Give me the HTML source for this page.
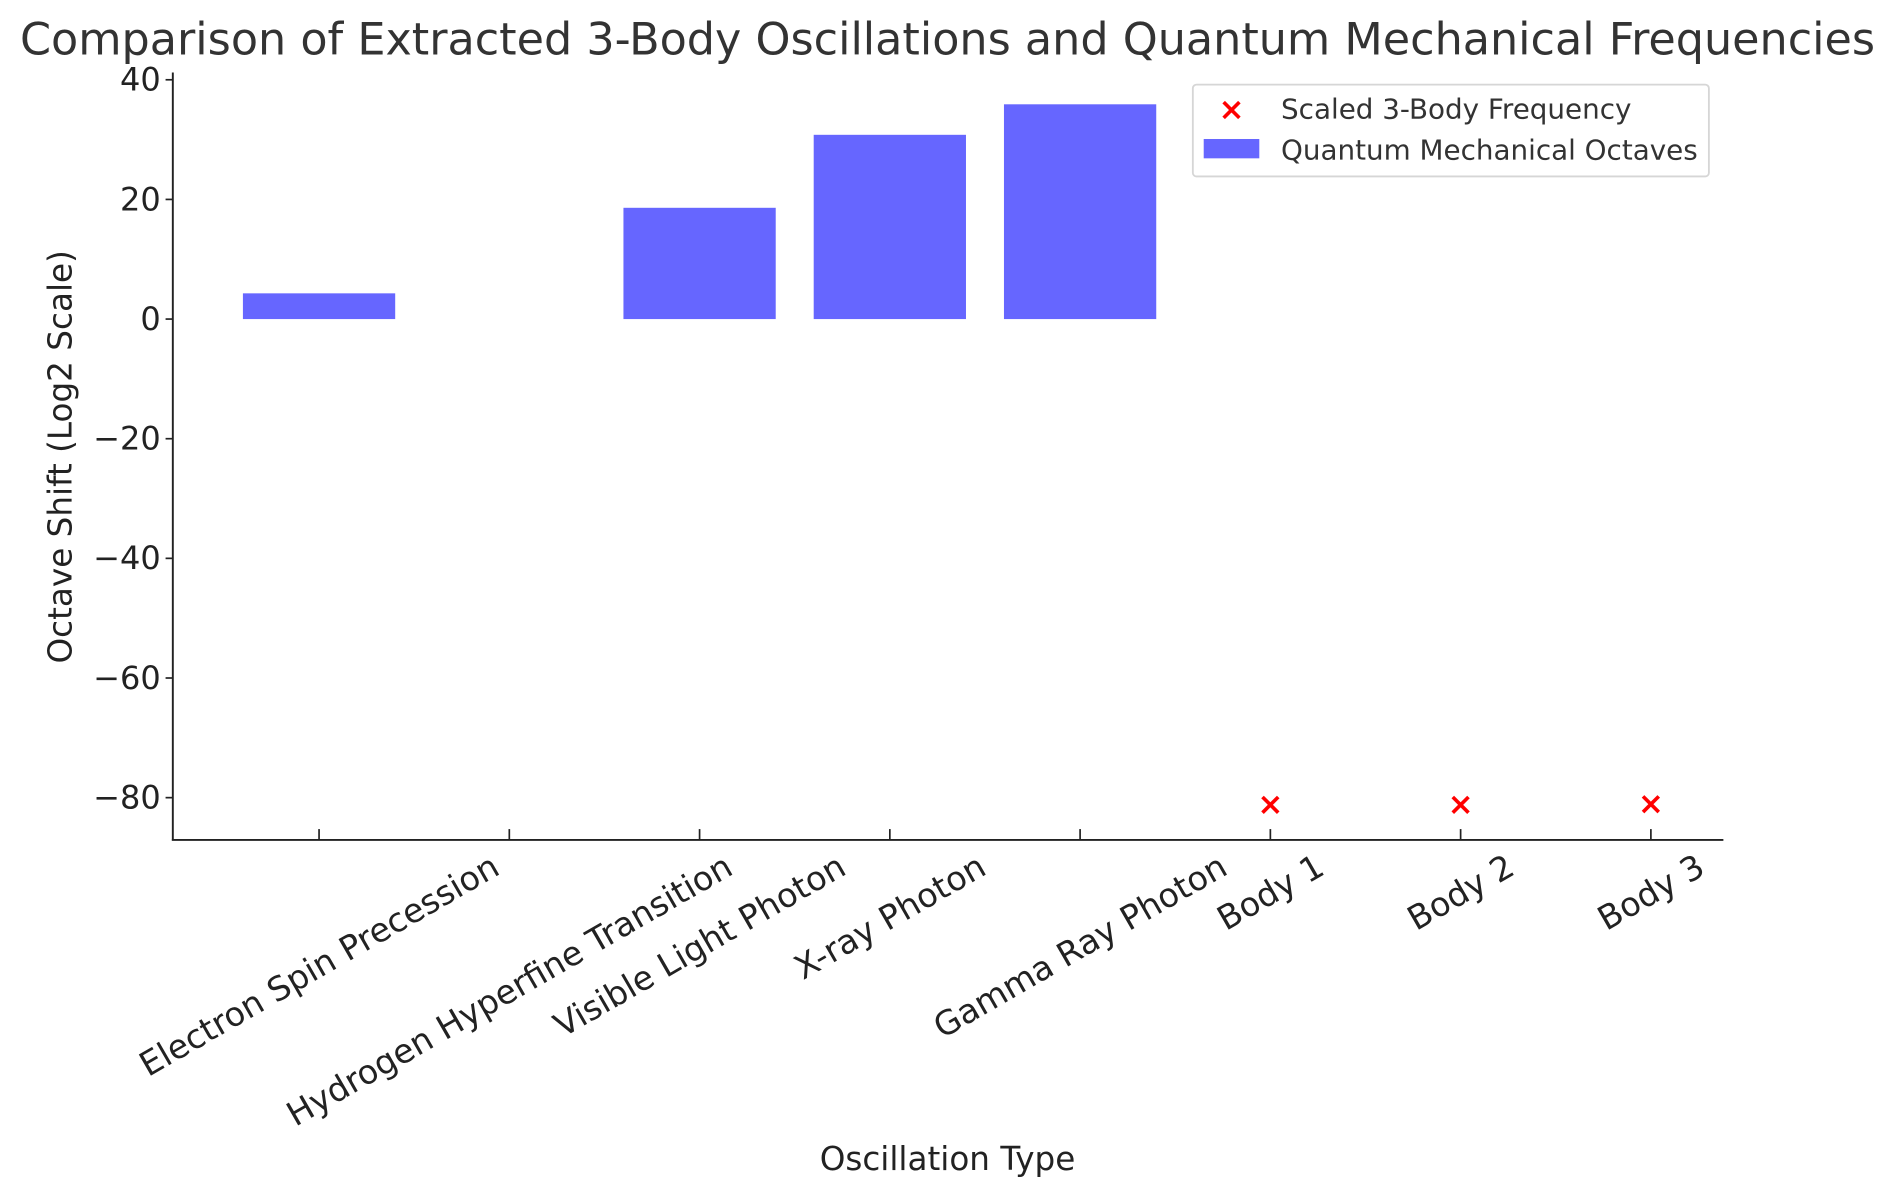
<!DOCTYPE html>
<html><head><meta charset="utf-8"><style>
html,body{margin:0;padding:0;background:#fff;}
svg{display:block;font-family:"DejaVu Sans","Liberation Sans",sans-serif;}
</style></head><body>
<svg id="chart" width="1895" height="1196" viewBox="0 0 1568 989.6" xmlns="http://www.w3.org/2000/svg">
<text x="784" y="45" font-size="36.8" fill="#333" text-anchor="middle">Comparison of Extracted 3-Body Oscillations and Quantum Mechanical Frequencies</text>
<g id="yticks"></g>
<g id="bars"></g>
<g id="marks"></g>
<g id="xticks"></g>
<line x1="143" y1="60" x2="143" y2="695.5" stroke="#222" stroke-width="1.6"/>
<line x1="142.2" y1="695" x2="1426" y2="695" stroke="#222" stroke-width="1.6"/>
<text transform="translate(59,378) rotate(-90)" font-size="27" fill="#222" text-anchor="middle">Octave Shift (Log2 Scale)</text>
<text x="784" y="968" font-size="27" fill="#222" text-anchor="middle">Oscillation Type</text>
<g>
<rect x="987" y="70" width="427" height="76" rx="3" fill="#fff" stroke="#d6d6d6" stroke-width="1.5"/>
<g stroke="red" stroke-width="3"><line x1="1012.5" y1="84.5" x2="1025.5" y2="97.5"/><line x1="1025.5" y1="84.5" x2="1012.5" y2="97.5"/></g>
<text x="1060" y="98" font-size="23" fill="#333">Scaled 3-Body Frequency</text>
<rect x="996" y="115" width="46" height="16" fill="#6666ff"/>
<text x="1060" y="132" font-size="23" fill="#333">Quantum Mechanical Octaves</text>
</g>
</svg>
<script>
const categories=["Electron Spin Precession","Hydrogen Hyperfine Transition","Visible Light Photon","X-ray Photon","Gamma Ray Photon","Body 1","Body 2","Body 3"];
const barCats=["Electron Spin Precession","Hydrogen Hyperfine Transition","Visible Light Photon","X-ray Photon","Gamma Ray Photon"];
const barValues=[4.3,0,18.6,30.8,35.9];
const markerCats=["Body 1","Body 2","Body 3"];
const markerValues=[-81.2,-81.2,-81.1];
const yTicks=[40,20,0,-20,-40,-60,-80];
const yTickLabels=["40","20","0","\u221220","\u221240","\u221260","\u221280"];
const NS="http://www.w3.org/2000/svg";
function yS(v){return 264-v*4.95;}
function xS(c){return 264+categories.indexOf(c)*157.43;}
function mk(t,a,p){const e=document.createElementNS(NS,t);for(const k in a)e.setAttribute(k,a[k]);p.appendChild(e);return e;}
const yg=document.getElementById('yticks');
yTicks.forEach((v,i)=>{
 const l=mk('line',{x1:137,x2:143,y1:yS(v),y2:yS(v),stroke:'#222','stroke-width':1.4},yg);
 
 
 const t=mk('text',{x:133,y:yS(v)+9,'font-size':26.5,fill:'#222','text-anchor':'end'},yg);
 t.textContent=yTickLabels[i];
 
 
});
const bg=document.getElementById('bars');
barCats.forEach((c,i)=>{
 const v=barValues[i];const y0=yS(0),y1=yS(v);
 const r=mk('rect',{x:xS(c)-63,width:126,y:Math.min(y0,y1),height:Math.abs(y1-y0),fill:'#6666ff'},bg);
 
 
});
const mg=document.getElementById('marks');
markerCats.forEach((c,i)=>{
 const x=xS(c),y=yS(markerValues[i]);
 const g=mk('g',{stroke:'red','stroke-width':3},mg);
 
 
 mk('line',{x1:x-6.5,y1:y-6.5,x2:x+6.5,y2:y+6.5},g);
 mk('line',{x1:x+6.5,y1:y-6.5,x2:x-6.5,y2:y+6.5},g);
});
const xg=document.getElementById('xticks');
categories.forEach(c=>{
 const x=xS(c);
 const l=mk('line',{x1:x,x2:x,y1:686,y2:695,stroke:'#222','stroke-width':1.4},xg);
 
 
 const t=mk('text',{'font-size':27.6,fill:'#222','text-anchor':'middle','dominant-baseline':'central'},xg);
 t.textContent=c;
 
 
 const L=t.getComputedTextLength();
 const h=L*0.5+33*0.866;
 t.setAttribute('transform','translate('+x+','+(700+h/2)+') rotate(-30)');
});
</script>
</body></html>
